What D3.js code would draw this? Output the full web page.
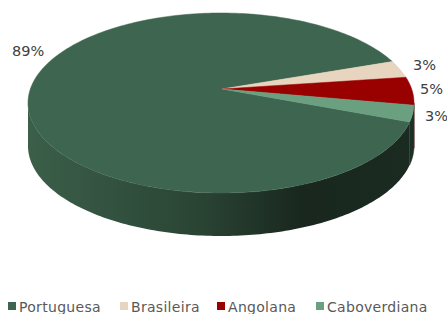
<!DOCTYPE html>
<html>
<head>
<meta charset="utf-8">
<script src="https://cdn.jsdelivr.net/npm/d3@7"></script>
<style>
  body { margin: 0; background: #fff; }
  svg { display: block; }
</style>
</head>
<body>
<div id="chart"></div>
<script>
// data
const categories = ["Portuguesa", "Brasileira", "Angolana", "Caboverdiana"];
const values = [89, 3, 5, 3];
const labels = ["89%", "3%", "5%", "3%"];
const colors = ["#3e654f", "#e8d5bf", "#990000", "#6a9f80"];
const sideColors = ["#1b2b21", "#8a7a68", "#5a0000", "#1d3026"];

const width = 447, height = 314;

const svg = d3.select("#chart")
  .append("svg")
  .attr("width", width)
  .attr("height", height);

// ellipse geometry of the tilted pie
const cx = 221, cy = 103, rx = 193, ry = 90, depth = 43;
const apex = [222, 89];

const pie = d3.pie()
  .sort(null)
  .value(d => d)
  .startAngle(102.2 * Math.PI / 180)
  .endAngle(102.2 * Math.PI / 180 + 2 * Math.PI);

const arcs = pie(values);

// d3 angle (0 at top, clockwise) -> point on ellipse
const pt = (a, dy = 0) => [cx + rx * Math.sin(a), cy - ry * Math.cos(a) + dy];
const line = d3.line();

function arcPoints(a0, a1, dy) {
  const n = Math.max(2, Math.ceil(Math.abs(a1 - a0) / 0.02));
  return d3.range(n + 1).map(i => pt(a0 + (a1 - a0) * i / n, dy));
}

// side gradient for the big slice
const defs = svg.append("defs");
const grad = defs.append("linearGradient")
  .attr("id", "sideGrad")
  .attr("x1", "0%").attr("x2", "100%").attr("y1", "0%").attr("y2", "0%");
grad.append("stop").attr("offset", "0%").attr("stop-color", "#3b5f49");
grad.append("stop").attr("offset", "45%").attr("stop-color", "#2a4434");
grad.append("stop").attr("offset", "72%").attr("stop-color", "#19271e");
grad.append("stop").attr("offset", "100%").attr("stop-color", "#1b2b21");

// front side walls (visible between 90deg and 270deg in d3 angles)
const front0 = Math.PI / 2, front1 = 3 * Math.PI / 2;
const sides = svg.append("g");
arcs.forEach((d, i) => {
  const s = d.startAngle, e = d.endAngle;
  const segs = [];
  for (let k = -1; k <= 1; k++) {
    const a0 = Math.max(s + k * 2 * Math.PI, front0);
    const a1 = Math.min(e + k * 2 * Math.PI, front1);
    if (a1 > a0) segs.push([a0, a1]);
  }
  segs.forEach(([a0, a1]) => {
    const top = arcPoints(a0, a1, 0);
    const bot = arcPoints(a1, a0, depth);
    sides.append("path")
      .attr("d", line(top.concat(bot)) + "Z")
      .attr("fill", i === 0 ? "url(#sideGrad)" : sideColors[i])
      .attr("stroke", i === 0 ? "none" : sideColors[i])
      .attr("stroke-width", 0.5);
  });
});

// top face slices
svg.append("g")
  .selectAll("path")
  .data(arcs)
  .join("path")
  .attr("d", d => line([apex].concat(arcPoints(d.startAngle, d.endAngle, 0))) + "Z")
  .attr("fill", (d, i) => colors[i])
  .attr("stroke", (d, i) => colors[i])
  .attr("stroke-width", 0.5);

// percentage labels
const labelPos = [[12, 56], [413, 70], [420, 94], [425, 121]];
svg.append("g")
  .selectAll("text")
  .data(arcs)
  .join("text")
  .attr("x", (d, i) => labelPos[i][0])
  .attr("y", (d, i) => labelPos[i][1])
  .attr("font-family", "DejaVu Sans, sans-serif")
  .attr("font-size", 14.5)
  .attr("fill", "#404040")
  .text((d, i) => labels[i]);

// legend
const legendX = [8, 120, 217, 316];
const lg = svg.append("g")
  .selectAll("g")
  .data(categories)
  .join("g")
  .attr("transform", (d, i) => `translate(${legendX[i]},302)`);
lg.append("rect")
  .attr("width", 8).attr("height", 8)
  .attr("fill", (d, i) => colors[i]);
lg.append("text")
  .attr("x", 11)
  .attr("y", 9.5)
  .attr("font-family", "DejaVu Sans, sans-serif")
  .attr("font-size", 14)
  .attr("letter-spacing", 0.3)
  .attr("fill", "#595959")
  .text(d => d);
</script>
</body>
</html>
